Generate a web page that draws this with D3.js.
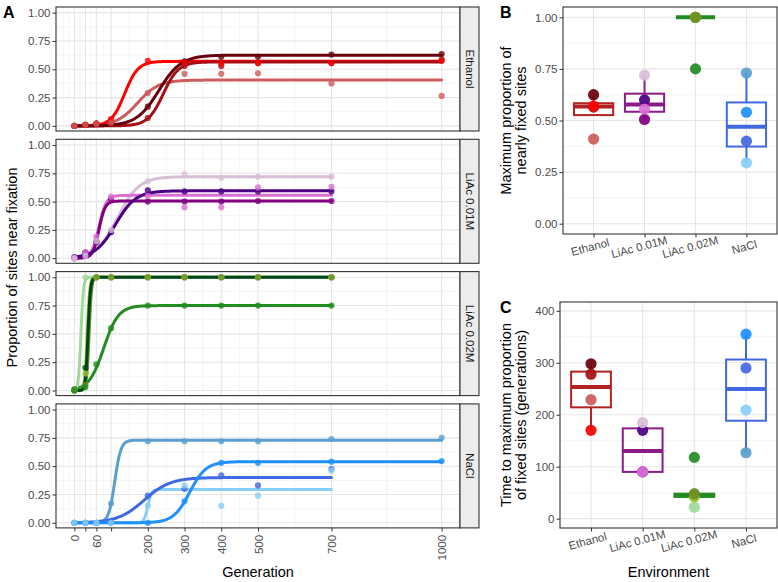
<!DOCTYPE html>
<html>
<head>
<meta charset="utf-8">
<script src="https://cdn.jsdelivr.net/npm/d3@7"></script>
<style>
body { margin: 0; background: #fff; }
text { font-family: "Liberation Sans", Arial, Helvetica, sans-serif; }
</style>
</head>
<body>
<div id="chart"></div>
<script>
const environments = ["Ethanol", "LiAc 0.01M", "LiAc 0.02M", "NaCl"];
const generations = [0, 30, 60, 100, 200, 300, 400, 500, 700, 1000];
const genTicks = [0, 30, 60, 100, 200, 300, 400, 500, 700, 1000];
const genTickLabels = ["0", "", "60", "", "200", "300", "400", "500", "700", "1000"];
const propTicks = [0, 0.25, 0.5, 0.75, 1];
const timeTicks = [0, 100, 200, 300, 400];
const envBoxColor = ["#b22222", "#8b1a8b", "#228b22", "#4169e1"];

// one entry per replicate population
const repEnv = [0, 0, 0, 0, 1, 1, 1, 1, 2, 2, 2, 2, 2, 3, 3, 3, 3];
const repColor = ["#67000d", "#a50f15", "#ff0000", "#cd5c5c",
  "#4b0082", "#800080", "#da70d6", "#d8bfd8",
  "#00441b", "#a1d99b", "#9acd32", "#6b8e23", "#228b22",
  "#1e90ff", "#4169e1", "#5a9fd0", "#87cefa"];
const repLastGen = [1000, 1000, 1000, 1000, 700, 700, 700, 700,
  700, 700, 700, 700, 700, 1000, 700, 1000, 700];

// fitted logistic curves: plateau, midpoint (generation), rate
const fitPlateau = [0.625, 0.565, 0.57, 0.405, 0.595, 0.505, 0.555, 0.72,
  1, 1, 1, 1, 0.75, 0.54, 0.40, 0.73, 0.295];
const fitMid = [230, 242, 137, 172, 112, 67, 67, 118,
  37, 18, 35, 40, 80, 314, 190, 110, 200];
const fitRate = [0.033, 0.048, 0.055, 0.035, 0.0365, 0.12, 0.1, 0.0345,
  0.3, 0.3, 0.3, 0.3, 0.05, 0.045, 0.028, 0.12, 0.2];

// observed proportions, one per sampled generation
const repObs = [
  [0, 0.01, 0.02, 0.03, 0.17, 0.57, 0.61, 0.61, 0.63, 0.635],
  [0, 0.01, 0.02, 0.02, 0.07, 0.53, 0.53, 0.555, 0.555, 0.585],
  [0, 0.01, 0.02, 0.06, 0.575, 0.56, 0.55, 0.555, 0.555, 0.575],
  [0, 0.01, 0.02, 0.03, 0.29, 0.46, 0.46, 0.465, 0.375, 0.265],
  [0.01, 0.05, 0.14, 0.23, 0.60, 0.59, 0.59, 0.59, 0.59],
  [0, 0.05, 0.15, 0.52, 0.50, 0.50, 0.50, 0.505, 0.505],
  [0, 0.05, 0.19, 0.545, 0.55, 0.45, 0.45, 0.625, 0.63],
  [0, 0.02, 0.15, 0.25, 0.68, 0.74, 0.71, 0.72, 0.72],
  [0.01, 0.2, 1, 1, 1, 1, 1, 1, 1],
  [0, 1, 1, 1, 1, 1, 1, 1, 1],
  [0, 0.15, 1, 1, 1, 1, 1, 1, 1],
  [0, 0.05, 1, 1, 1, 1, 1, 1, 1],
  [0, 0.03, 0.23, 0.55, 0.75, 0.75, 0.75, 0.75, 0.75],
  [0, 0, 0, 0, 0, 0.19, 0.53, 0.53, 0.54, 0.545],
  [0, 0, 0, 0.01, 0.24, 0.30, 0.42, 0.33, 0.475],
  [0, 0, 0, 0.17, 0.72, 0.72, 0.72, 0.72, 0.74, 0.75],
  [0, 0, 0, 0, 0.15, 0.33, 0.15, 0.24, 0.46]
];

// panel B and C values
const maxProp = [0.625, 0.565, 0.57, 0.41, 0.60, 0.505, 0.555, 0.72,
  1, 1, 1, 1, 0.75, 0.54, 0.40, 0.73, 0.295];
const timeToMax = [298, 278, 170, 229, 170, 90, 90, 185,
  44, 22, 42, 48, 118, 355, 290, 127, 209];

const W = 778, H = 582;
const gridMajor = "#e6e6e6", gridMinor = "#f1f1f1", inkDark = "#333333", tickText = "#4d4d4d";

const svg = d3.select("#chart")
  .append("svg")
  .attr("width", W)
  .attr("height", H);

const reps = d3.range(repEnv.length);

function minorBreaks(ticks, lo, hi) {
  const ext = [2 * ticks[0] - ticks[1], ...ticks, 2 * ticks[ticks.length - 1] - ticks[ticks.length - 2]];
  const out = [ext[0]];
  for (let i = 1; i < ext.length; i++) out.push((ext[i - 1] + ext[i]) / 2);
  return out.filter(v => v > lo && v < hi);
}

function styleAxis(g) {
  g.select(".domain").remove();
  g.selectAll(".tick line").attr("stroke", inkDark).attr("stroke-width", 1);
  g.selectAll(".tick text").attr("fill", tickText).style("font-size", "11.5px");
}

// ---------- panel A ----------
const aLeft = 56, aRight = 460, aTop = 7, aH = 124, aStep = 132.3;
const x = d3.scaleLinear().domain([-50, 1050]).range([aLeft, aRight]);
const xMinor = minorBreaks(genTicks, -50, 1050);
const yMinorA = minorBreaks(propTicks, -0.045, 1.05);

environments.forEach((env, i) => {
  const top = aTop + i * aStep;
  const y = d3.scaleLinear().domain([-0.045, 1.05]).range([top + aH, top]);
  const g = svg.append("g");

  g.append("rect").attr("x", aLeft).attr("y", top).attr("width", aRight - aLeft).attr("height", aH).attr("fill", "#fff");

  g.selectAll(".vmin").data(xMinor).enter().append("line")
    .attr("x1", d => x(d)).attr("x2", d => x(d)).attr("y1", top).attr("y2", top + aH)
    .attr("stroke", gridMinor).attr("stroke-width", 0.7);
  g.selectAll(".hmin").data(yMinorA).enter().append("line")
    .attr("x1", aLeft).attr("x2", aRight).attr("y1", d => y(d)).attr("y2", d => y(d))
    .attr("stroke", gridMinor).attr("stroke-width", 0.7);
  g.selectAll(".vmaj").data(genTicks).enter().append("line")
    .attr("x1", d => x(d)).attr("x2", d => x(d)).attr("y1", top).attr("y2", top + aH)
    .attr("stroke", gridMajor).attr("stroke-width", 1.1);
  g.selectAll(".hmaj").data(propTicks).enter().append("line")
    .attr("x1", aLeft).attr("x2", aRight).attr("y1", d => y(d)).attr("y2", d => y(d))
    .attr("stroke", gridMajor).attr("stroke-width", 1.1);

  const envReps = reps.filter(r => repEnv[r] === i);
  const line = d3.line().x(d => x(d[0])).y(d => y(d[1]));

  // lines drawn in reverse so the first replicate sits on top
  envReps.slice().reverse().forEach(r => {
    const pts = d3.range(0, repLastGen[r] + 1, 2)
      .map(gen => [gen, fitPlateau[r] / (1 + Math.exp(-fitRate[r] * (gen - fitMid[r])))]);
    g.append("path").datum(pts).attr("d", line)
      .attr("fill", "none").attr("stroke", repColor[r]).attr("stroke-width", 3)
      .attr("stroke-linecap", "round");
  });

  envReps.forEach(r => {
    g.selectAll(null).data(repObs[r].map((v, k) => [generations[k], v])).enter().append("circle")
      .attr("cx", d => x(d[0])).attr("cy", d => y(d[1])).attr("r", 3.1)
      .attr("fill", repColor[r]).attr("fill-opacity", 0.8);
  });

  g.append("rect").attr("x", aLeft).attr("y", top).attr("width", aRight - aLeft).attr("height", aH)
    .attr("fill", "none").attr("stroke", inkDark).attr("stroke-width", 1.1);

  // strip
  g.append("rect").attr("x", aRight).attr("y", top).attr("width", 19).attr("height", aH)
    .attr("fill", "#ececec").attr("stroke", inkDark).attr("stroke-width", 1.1);
  g.append("text")
    .attr("transform", `translate(${aRight + 9.5},${top + aH / 2}) rotate(90)`)
    .attr("text-anchor", "middle").attr("dominant-baseline", "central")
    .attr("fill", "#1a1a1a").style("font-size", "11.5px").text(env);

  const ya = g.append("g").attr("transform", `translate(${aLeft},0)`)
    .call(d3.axisLeft(y).tickValues(propTicks).tickFormat(d3.format(".2f")).tickSize(3.5).tickPadding(2));
  styleAxis(ya);

  if (i === environments.length - 1) {
    const xa = g.append("g").attr("transform", `translate(0,${top + aH})`)
      .call(d3.axisBottom(x).tickValues(genTicks).tickFormat((d, k) => genTickLabels[k]).tickSize(3.5));
    styleAxis(xa);
    xa.selectAll(".tick text")
      .attr("y", 0).attr("dy", null)
      .attr("transform", "translate(0,7) rotate(-90)")
      .attr("text-anchor", "end").attr("dominant-baseline", "central");
  }
});

svg.append("text").attr("x", 3).attr("y", 18).style("font-size", "16px").style("font-weight", "bold").text("A");
svg.append("text")
  .attr("transform", `translate(17,${(aTop + 3 * aStep + aH + aTop) / 2}) rotate(-90)`)
  .attr("text-anchor", "middle").style("font-size", "14.5px").text("Proportion of sites near fixation");
svg.append("text").attr("x", (aLeft + aRight) / 2).attr("y", 577)
  .attr("text-anchor", "middle").style("font-size", "14.5px").text("Generation");

// ---------- panels B and C ----------
function boxStats(vals) {
  const s = vals.slice().sort(d3.ascending);
  const q1 = d3.quantile(s, 0.25), med = d3.quantile(s, 0.5), q3 = d3.quantile(s, 0.75);
  const iqr = q3 - q1;
  const inside = s.filter(v => v >= q1 - 1.5 * iqr && v <= q3 + 1.5 * iqr);
  return { q1, med, q3, lo: Math.min(q1, d3.min(inside)), hi: Math.max(q3, d3.max(inside)) };
}

function boxPanel(opts) {
  const { left, right, top, bottom, yDomain, ticks, fmt, values, label, titleLines, xTitle } = opts;
  const xb = d3.scalePoint().domain(environments).range([left, right]).padding(0.6);
  const yb = d3.scaleLinear().domain(yDomain).range([bottom, top]);
  const g = svg.append("g");
  const yMinor = minorBreaks(ticks, yDomain[0], yDomain[1]);

  g.selectAll(".hmin").data(yMinor).enter().append("line")
    .attr("x1", left).attr("x2", right).attr("y1", d => yb(d)).attr("y2", d => yb(d))
    .attr("stroke", gridMinor).attr("stroke-width", 0.7);
  g.selectAll(".hmaj").data(ticks).enter().append("line")
    .attr("x1", left).attr("x2", right).attr("y1", d => yb(d)).attr("y2", d => yb(d))
    .attr("stroke", gridMajor).attr("stroke-width", 1.1);
  g.selectAll(".vmaj").data(environments).enter().append("line")
    .attr("x1", d => xb(d)).attr("x2", d => xb(d)).attr("y1", top).attr("y2", bottom)
    .attr("stroke", gridMajor).attr("stroke-width", 1.1);

  const bw = xb.step() * 0.77;
  environments.forEach((env, i) => {
    const st = boxStats(reps.filter(r => repEnv[r] === i).map(r => values[r]));
    const cx = xb(env), col = envBoxColor[i];
    g.append("line").attr("x1", cx).attr("x2", cx).attr("y1", yb(st.hi)).attr("y2", yb(st.q3))
      .attr("stroke", col).attr("stroke-width", 2);
    g.append("line").attr("x1", cx).attr("x2", cx).attr("y1", yb(st.q1)).attr("y2", yb(st.lo))
      .attr("stroke", col).attr("stroke-width", 2);
    g.append("rect").attr("x", cx - bw / 2).attr("y", yb(st.q3)).attr("width", bw)
      .attr("height", Math.max(0, yb(st.q1) - yb(st.q3)))
      .attr("fill", "none").attr("stroke", col).attr("stroke-width", 2);
    g.append("line").attr("x1", cx - bw / 2).attr("x2", cx + bw / 2).attr("y1", yb(st.med)).attr("y2", yb(st.med))
      .attr("stroke", col).attr("stroke-width", 4);
  });

  g.selectAll(".pt").data(reps).enter().append("circle")
    .attr("cx", r => xb(environments[repEnv[r]])).attr("cy", r => yb(values[r])).attr("r", 5.6)
    .attr("fill", r => repColor[r]).attr("fill-opacity", 0.92);

  g.append("rect").attr("x", left).attr("y", top).attr("width", right - left).attr("height", bottom - top)
    .attr("fill", "none").attr("stroke", inkDark).attr("stroke-width", 1.1);

  const ya = g.append("g").attr("transform", `translate(${left},0)`)
    .call(d3.axisLeft(yb).tickValues(ticks).tickFormat(fmt).tickSize(3.5).tickPadding(2));
  styleAxis(ya);

  const xa = g.append("g").attr("transform", `translate(0,${bottom})`)
    .call(d3.axisBottom(xb).tickSize(3.5));
  styleAxis(xa);
  xa.selectAll(".tick text").each(function () {
    const w = this.getComputedTextLength();
    d3.select(this).attr("y", 0).attr("dy", null)
      .attr("text-anchor", "middle").attr("dominant-baseline", "central")
      .attr("transform", `translate(${-0.1 * w},13) rotate(-15)`);
  });

  svg.append("text").attr("x", 500).attr("y", top + 11).style("font-size", "16px").style("font-weight", "bold").text(label);
  const ty = svg.append("text")
    .attr("transform", `translate(506,${(top + bottom) / 2}) rotate(-90)`)
    .attr("text-anchor", "middle").style("font-size", "14.5px");
  titleLines.forEach((t, k) => {
    ty.append("tspan").attr("x", 0).attr("dy", k === 0 ? "0.35em" : "15px").text(t);
  });
  if (xTitle) {
    svg.append("text").attr("x", (left + right) / 2).attr("y", 577)
      .attr("text-anchor", "middle").style("font-size", "14.5px").text(xTitle);
  }
}

boxPanel({
  left: 563, right: 777, top: 7, bottom: 234, yDomain: [-0.05, 1.05],
  ticks: propTicks, fmt: d3.format(".2f"), values: maxProp, label: "B",
  titleLines: ["Maximum proportion of", "nearly fixed sites"]
});
boxPanel({
  left: 560, right: 777, top: 302, bottom: 528, yDomain: [-18, 417],
  ticks: timeTicks, fmt: d3.format("d"), values: timeToMax, label: "C",
  titleLines: ["Time to maximum proportion", "of fixed sites (generations)"],
  xTitle: "Environment"
});
</script>
</body>
</html>
